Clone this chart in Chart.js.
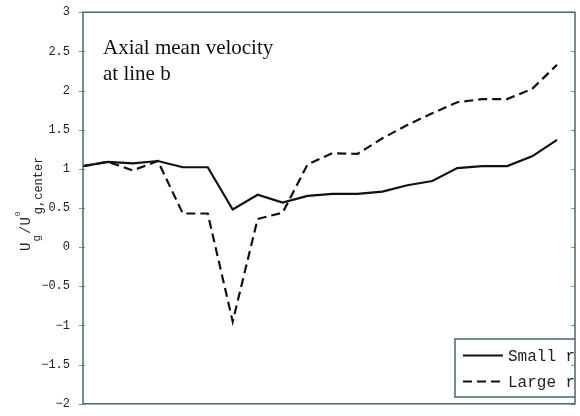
<!DOCTYPE html>
<html>
<head>
<meta charset="utf-8">
<script src="https://cdn.jsdelivr.net/npm/chart.js@4.4.1/dist/chart.umd.min.js"></script>
<style>
html,body{margin:0;padding:0;background:#fff;}
canvas{display:block;}
</style>
</head>
<body>
<canvas id="c" width="580" height="416"></canvas>
<script>
// ---- data ----
const stations = [0,1,2,3,4,5,6,7,8,9,10,11,12,13,14,15,16,17,18,19];
const smallR = [1.035,1.09,1.07,1.10,1.02,1.02,0.48,0.67,0.57,0.655,0.68,0.68,0.71,0.79,0.845,1.01,1.035,1.035,1.16,1.37];
const largeR = [1.035,1.09,0.98,1.10,0.43,0.43,-0.95,0.36,0.44,1.055,1.20,1.19,1.39,1.56,1.71,1.85,1.89,1.89,2.02,2.33];
const seriesNames = ['Small r', 'Large r'];
const yTicks = [-2,-1.5,-1,-0.5,0,0.5,1,1.5,2,2.5,3];
const yTickLabels = ['\u22122','\u22121.5','\u22121','\u22120.5','0','0.5','1','1.5','2','2.5','3'];
const titleLines = ['Axial mean velocity', 'at line b'];

const FRAME = '#4a6570';
const MONO = '"Liberation Mono", "DejaVu Sans Mono", monospace';

const decor = {
  id: 'decor',
  afterDatasetsDraw(chart) {
    const ctx = chart.ctx, a = chart.chartArea;
    // legend box (clipped by plot area)
    ctx.save();
    ctx.beginPath();
    ctx.rect(a.left, a.top, a.right - a.left, a.bottom - a.top);
    ctx.clip();
    const bx = 455, by = 339, bw = 160, bh = 58;
    ctx.fillStyle = '#fff';
    ctx.fillRect(bx, by, bw, bh);
    ctx.strokeStyle = FRAME; ctx.lineWidth = 1.5;
    ctx.strokeRect(bx, by, bw, bh);
    ctx.strokeStyle = '#111'; ctx.lineWidth = 2.2;
    ctx.beginPath(); ctx.moveTo(463, 355.5); ctx.lineTo(503, 355.5); ctx.stroke();
    ctx.setLineDash([9,5]);
    ctx.beginPath(); ctx.moveTo(463, 381.5); ctx.lineTo(503, 381.5); ctx.stroke();
    ctx.setLineDash([]);
    ctx.fillStyle = '#222';
    ctx.font = '16px ' + MONO;
    ctx.textBaseline = 'alphabetic'; ctx.textAlign = 'left';
    ctx.fillText(seriesNames[0], 508, 361);
    ctx.fillText(seriesNames[1], 508, 387);
    ctx.restore();
  },
  afterDraw(chart) {
    const ctx = chart.ctx, a = chart.chartArea;
    const ys = chart.scales.y;
    ctx.save();
    // tick marks
    ctx.strokeStyle = '#7f949c'; ctx.lineWidth = 1;
    yTicks.forEach(v => {
      const y = Math.round(ys.getPixelForValue(v)) + 0.5;
      ctx.beginPath(); ctx.moveTo(a.left - 4, y); ctx.lineTo(a.left + 2, y); ctx.stroke();
      ctx.beginPath(); ctx.moveTo(a.right - 4, y); ctx.lineTo(a.right, y); ctx.stroke();
    });
    // frame
    ctx.strokeStyle = FRAME; ctx.lineWidth = 1.5;
    ctx.strokeRect(a.left, a.top, a.right - a.left, a.bottom - a.top);
    // annotation text
    ctx.fillStyle = '#111';
    ctx.font = '21px "Liberation Serif", "Times New Roman", serif';
    ctx.textAlign = 'left'; ctx.textBaseline = 'alphabetic';
    ctx.fillText(titleLines[0], 103, 54);
    ctx.fillText(titleLines[1], 103, 80);
    // y axis label  U_g / U^0_{g,center}
    ctx.translate(30, 251);
    ctx.rotate(-Math.PI / 2);
    ctx.fillStyle = '#2a2a2a';
    let u = 0;
    ctx.font = '14px ' + MONO; ctx.fillText('U', u, 0); u += ctx.measureText('U').width + 1;
    ctx.font = '11px ' + MONO; ctx.fillText('g', u, 10); u += ctx.measureText('g').width + 1;
    ctx.font = '14px ' + MONO; ctx.fillText('/U', u, 0); u += ctx.measureText('/U').width + 1;
    ctx.font = '8px ' + MONO; ctx.fillText('0', u, -10);
    ctx.font = '12px ' + MONO; ctx.fillText('g,center', u + 2, 12);
    ctx.restore();
  }
};

new Chart(document.getElementById('c'), {
  type: 'line',
  data: {
    datasets: [
      { label: seriesNames[0], data: stations.map((x, i) => ({x, y: smallR[i]})),
        borderColor: '#111', borderWidth: 2.2, pointRadius: 0, tension: 0, fill: false },
      { label: seriesNames[1], data: stations.map((x, i) => ({x, y: largeR[i]})),
        borderColor: '#111', borderWidth: 2.2, borderDash: [9,5], pointRadius: 0, tension: 0, fill: false }
    ]
  },
  options: {
    responsive: false,
    animation: false,
    devicePixelRatio: 1,
    layout: { padding: { left: 0, right: 5, top: 10, bottom: 11 } },
    plugins: { legend: { display: false }, tooltip: { enabled: false } },
    scales: {
      x: { type: 'linear', min: 0, max: 19.72, display: false },
      y: {
        type: 'linear', min: -2, max: 3,
        afterBuildTicks(scale) { scale.ticks = yTicks.map(v => ({value: v})); },
        afterFit(scale) { scale.width = 83; },
        grid: { display: false },
        border: { display: false },
        ticks: {
          padding: 5,
          color: '#222',
          font: { family: MONO, size: 12 },
          callback(value) { const i = yTicks.indexOf(value); return i >= 0 ? yTickLabels[i] : ''; }
        }
      }
    }
  },
  plugins: [decor]
});
</script>
</body>
</html>
